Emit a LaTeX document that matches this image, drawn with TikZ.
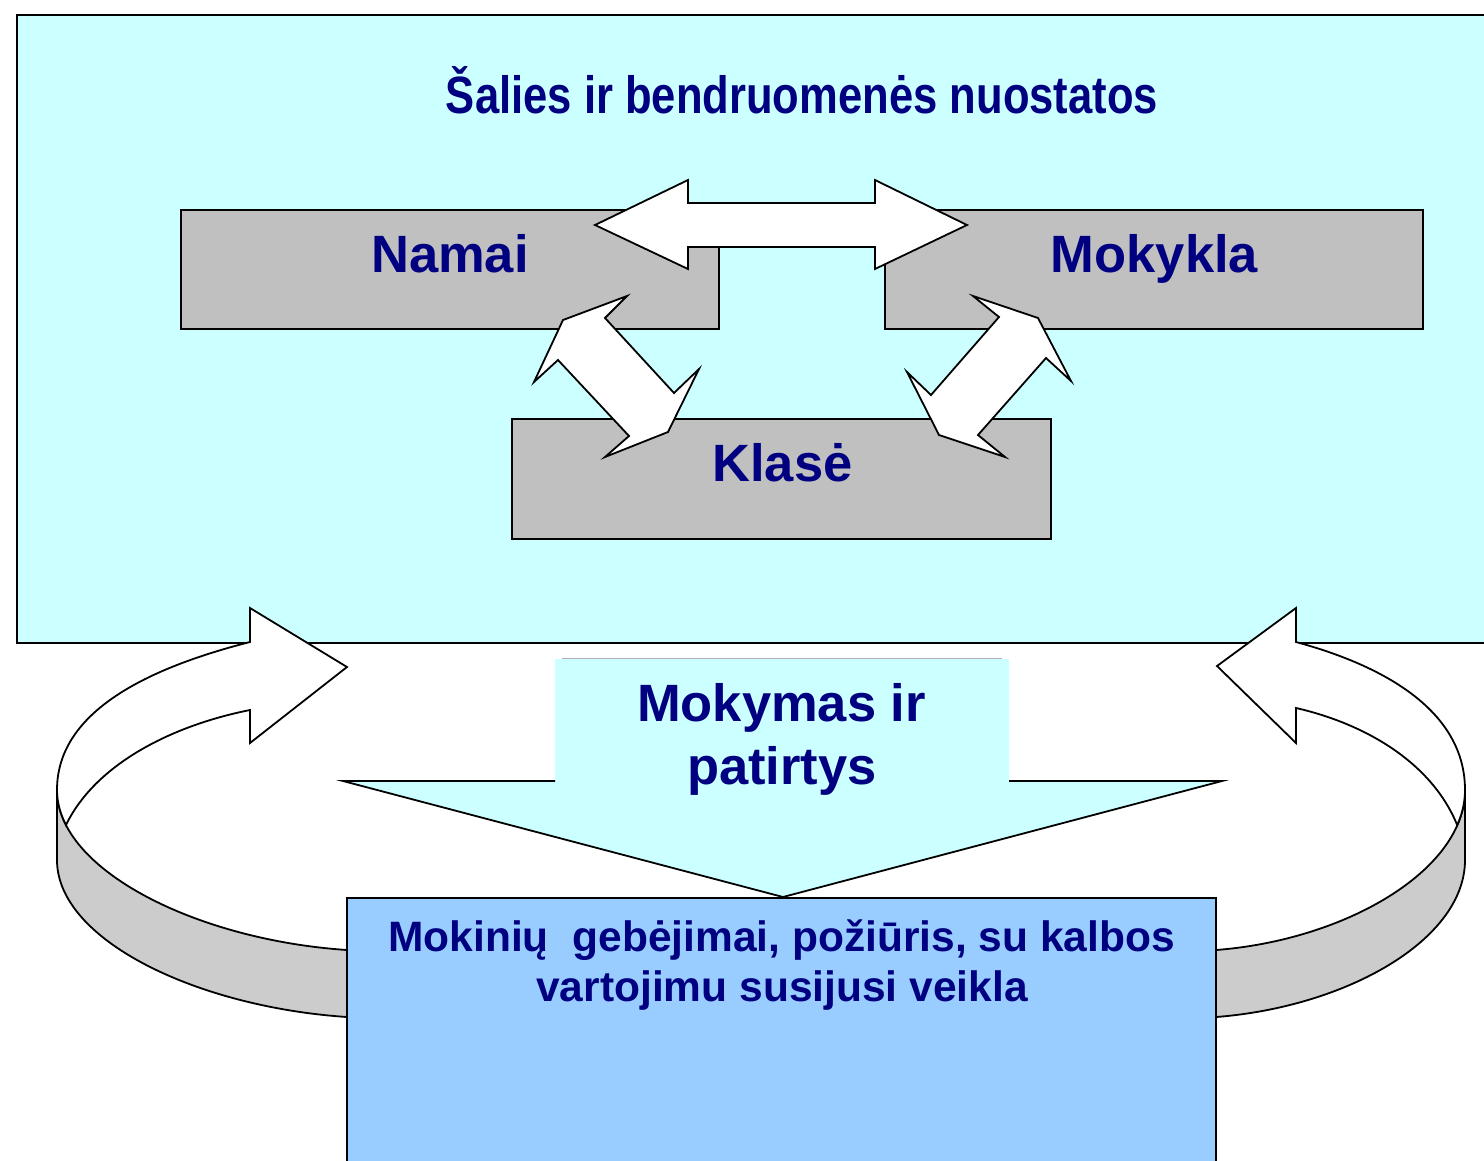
\documentclass[tikz,border=0pt]{standalone}
\usepackage{fontspec}
\setmainfont{Liberation Sans}
\usepackage{graphicx}
\definecolor{cyanbg}{HTML}{CCFFFF}
\definecolor{boxgray}{HTML}{C0C0C0}
\definecolor{sidegray}{HTML}{CCCCCC}
\definecolor{bluebox}{HTML}{99CCFF}
\definecolor{navy}{HTML}{000080}
\begin{document}
\begin{tikzpicture}[x=1pt,y=-1pt,line width=1.8pt,line join=miter,
  lbl/.style={text=navy,font=\bfseries\fontsize{52.5}{64}\selectfont,inner sep=0pt,anchor=base},
  smalllbl/.style={text=navy,font=\bfseries\fontsize{42.5}{50}\selectfont,inner sep=0pt,anchor=base},
  graybox/.style={draw=black,fill=boxgray,inner sep=0pt,line width=1.8pt},
  wharrow/.style={draw=black,fill=white,line width=1.8pt},
  ribbonside/.style={draw=black,fill=sidegray,line width=1.8pt}]
\useasboundingbox (0,0) rectangle (1484,1160);
\clip (0,0) rectangle (1484,1160);
\fill[white] (0,0) rectangle (1484,1160);

% big background rectangle
\draw[fill=cyanbg] (17,15) rectangle (1500,643);
\node[lbl] (title) at (802,113) {\resizebox{712pt}{\height}{Šalies ir bendruomenės nuostatos}};

% boxes
\node[graybox,minimum width=538pt,minimum height=119pt] (namai) at (450,269.5) {};
\node[graybox,minimum width=538pt,minimum height=119pt] (mokykla) at (1154,269.5) {};
\node[lbl] (namaitxt) at (450,272) {Namai};
\node[lbl] (mokyklatxt) at (1154.5,272) {Mokykla};

% horizontal double arrow
\draw[wharrow] (595,225) -- (688,180) -- (688,203) -- (875,203) -- (875,180) -- (967,225)
  -- (875,269) -- (875,247) -- (688,247) -- (688,269) -- cycle;

\node[graybox,minimum width=539pt,minimum height=120pt] (klase) at (781.5,479) {};
\node[lbl] (klasetxt) at (782.5,481) {Klasė};

% diagonal double arrows
\draw[wharrow] (563,320) -- (627,296) -- (605,318) -- (674,393) -- (699,369) -- (668,432)
  -- (605,457) -- (629,436) -- (558,360) -- (534,382) -- cycle;
\draw[wharrow] (973,296) -- (1038,318) -- (1071,381) -- (1046,358) -- (978,435) -- (1005,457)
  -- (939,435) -- (907,372) -- (931,395) -- (999,317) -- cycle;

% left curved ribbon arrow
\draw[ribbonside] (57,790) -- (57,860) .. controls (57,940) and (197,1007) .. (347,1017)
  -- (347,950) .. controls (197,940) and (57,870) .. (57,790) -- cycle;
\draw[wharrow] (250,642) .. controls (140,670) and (57,715) .. (57,790)
  .. controls (57,802) and (60.2,813.7) .. (66,825)
  .. controls (95,765) and (170,726) .. (250,710)
  -- (250,743) -- (347,667) -- (250,608) -- cycle;

% right curved ribbon arrow
\draw[ribbonside] (1465,790) -- (1465,860) .. controls (1465,940) and (1346,1007) .. (1216,1017)
  -- (1216,950) .. controls (1346,940) and (1465,870) .. (1465,790) -- cycle;
\draw[wharrow] (1296,642) .. controls (1392,668) and (1465,715) .. (1465,790)
  .. controls (1465,802) and (1462.3,813.8) .. (1457.2,825.1)
  .. controls (1432,763) and (1366,724) .. (1296,708)
  -- (1296,743) -- (1217,666) -- (1296,608) -- cycle;

% central down arrow
\fill[cyanbg] (555,659) -- (1009,659) -- (1009,781) -- (1222,781) -- (783,897) -- (343,781)
  -- (555,781) -- cycle;
\draw (555,781) -- (343,781) -- (783,897) -- (1222,781) -- (1009,781);
\draw[gray!60,line width=1pt] (562,658.5) -- (1002,658.5);
\node[lbl] (mok1) at (781.5,721) {Mokymas ir};
\node[lbl] (mok2) at (782,784) {patirtys};

% bottom box
\node[draw=black,fill=bluebox,line width=1.8pt,inner sep=0pt,minimum width=869pt,minimum height=280pt]
  (mokiniai) at (781.5,1038) {};
\node[smalllbl] (mk1) at (781.5,951) {Mokinių\ \ gebėjimai, požiūris, su kalbos};
\node[smalllbl] (mk2) at (782,1001) {vartojimu susijusi veikla};
\end{tikzpicture}
\end{document}
